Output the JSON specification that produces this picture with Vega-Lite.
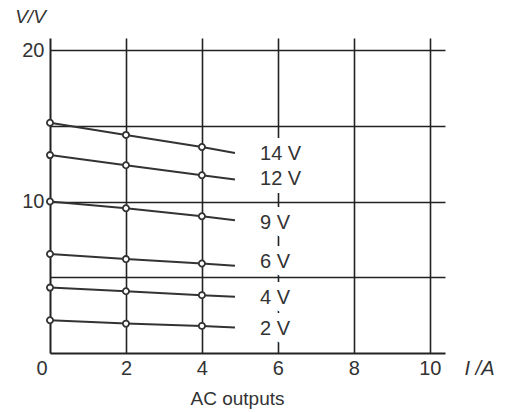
{
  "$schema": "https://vega.github.io/schema/vega-lite/v6.json",
  "width": 395,
  "height": 315,
  "autosize": {"type": "none"},
  "padding": {"left": 50, "top": 38, "right": 64, "bottom": 59},
  "background": "white",
  "title": {"text": "AC outputs", "orient": "bottom", "anchor": "middle", "font": "Liberation Sans", "fontSize": 19, "fontWeight": "normal", "color": "#333", "offset": 12, "dx": -10},
  "config": {"view": {"stroke": null}, "font": "Liberation Sans"},
  "datasets": {
    "lines": [
      {"series": "14 V", "I": 0, "V": 15.2}, {"series": "14 V", "I": 2, "V": 14.4}, {"series": "14 V", "I": 4, "V": 13.6}, {"series": "14 V", "I": 4.87, "V": 13.2},
      {"series": "12 V", "I": 0, "V": 13.07}, {"series": "12 V", "I": 2, "V": 12.4}, {"series": "12 V", "I": 4, "V": 11.74}, {"series": "12 V", "I": 4.87, "V": 11.45},
      {"series": "9 V", "I": 0, "V": 10.0}, {"series": "9 V", "I": 2, "V": 9.56}, {"series": "9 V", "I": 4, "V": 9.03}, {"series": "9 V", "I": 4.87, "V": 8.76},
      {"series": "6 V", "I": 0, "V": 6.54}, {"series": "6 V", "I": 2, "V": 6.2}, {"series": "6 V", "I": 4, "V": 5.91}, {"series": "6 V", "I": 4.87, "V": 5.76},
      {"series": "4 V", "I": 0, "V": 4.32}, {"series": "4 V", "I": 2, "V": 4.08}, {"series": "4 V", "I": 4, "V": 3.82}, {"series": "4 V", "I": 4.87, "V": 3.71},
      {"series": "2 V", "I": 0, "V": 2.16}, {"series": "2 V", "I": 2, "V": 1.94}, {"series": "2 V", "I": 4, "V": 1.79}, {"series": "2 V", "I": 4.87, "V": 1.68}
    ],
    "labels": [
      {"label": "14 V", "I": 5.53, "V": 13.11},
      {"label": "12 V", "I": 5.53, "V": 11.5},
      {"label": "9 V", "I": 5.53, "V": 8.6},
      {"label": "6 V", "I": 5.53, "V": 6.03},
      {"label": "4 V", "I": 5.53, "V": 3.64},
      {"label": "2 V", "I": 5.53, "V": 1.59}
    ]
  },
  "layer": [
    {
      "data": {"name": "lines"},
      "mark": {"type": "line", "color": "#333", "strokeWidth": 2},
      "encoding": {
        "x": {"field": "I", "type": "quantitative", "scale": {"domain": [0, 10.4], "nice": false, "zero": true},
          "axis": {"values": [0, 2, 4, 6, 8, 10], "grid": true, "gridColor": "#222", "gridWidth": 1.6,
            "ticks": false, "domainColor": "#222", "domainWidth": 2,
            "labelFont": "Liberation Sans", "labelFontSize": 20, "labelColor": "#333", "labelPadding": 5,
            "labelOffset": {"condition": {"test": "datum.value === 0", "value": -14}, "value": 0},
            "gridOpacity": {"condition": {"test": "datum.value === 0", "value": 0}, "value": 1},
            "title": "I /A", "titleFont": "Liberation Sans", "titleFontSize": 20, "titleFontWeight": "normal", "titleFontStyle": "italic", "titleColor": "#333",
            "titleX": 414, "titleY": 5, "titleAlign": "left", "titleBaseline": "top"}},
        "y": {"field": "V", "type": "quantitative", "scale": {"domain": [0, 20.8], "nice": false},
          "axis": {"values": [5, 10, 15, 20], "grid": true, "gridColor": "#222", "gridWidth": 1.6, "gridOpacity": 1,
            "ticks": false, "domainColor": "#222", "domainWidth": 2,
            "labelExpr": "datum.value === 10 || datum.value === 20 ? datum.label : ''",
            "labelFont": "Liberation Sans", "labelFontSize": 20, "labelColor": "#333", "labelPadding": 6,
            "title": "V/V", "titleFont": "Liberation Sans", "titleFontSize": 19, "titleFontWeight": "normal", "titleFontStyle": "italic", "titleColor": "#333",
            "titleAngle": 0, "titleX": -20, "titleY": -22, "titleAlign": "center", "titleBaseline": "middle"}},
        "detail": {"field": "series"}
      }
    },
    {
      "data": {"name": "lines"},
      "transform": [{"filter": "datum.I <= 4"}],
      "mark": {"type": "point", "shape": "circle", "size": 38, "filled": true, "fill": "white", "stroke": "#333", "strokeWidth": 1.8, "opacity": 1},
      "encoding": {
        "x": {"field": "I", "type": "quantitative"},
        "y": {"field": "V", "type": "quantitative"}
      }
    },
    {
      "data": {"name": "labels"},
      "mark": {"type": "text", "align": "left", "baseline": "middle", "font": "Liberation Sans", "fontSize": 20, "color": "white", "stroke": "white", "strokeWidth": 16, "strokeJoin": "round"},
      "encoding": {
        "x": {"field": "I", "type": "quantitative"},
        "y": {"field": "V", "type": "quantitative"},
        "text": {"field": "label"}
      }
    },
    {
      "data": {"name": "labels"},
      "mark": {"type": "text", "align": "left", "baseline": "middle", "font": "Liberation Sans", "fontSize": 20, "color": "#333"},
      "encoding": {
        "x": {"field": "I", "type": "quantitative"},
        "y": {"field": "V", "type": "quantitative"},
        "text": {"field": "label"}
      }
    }
  ]
}
